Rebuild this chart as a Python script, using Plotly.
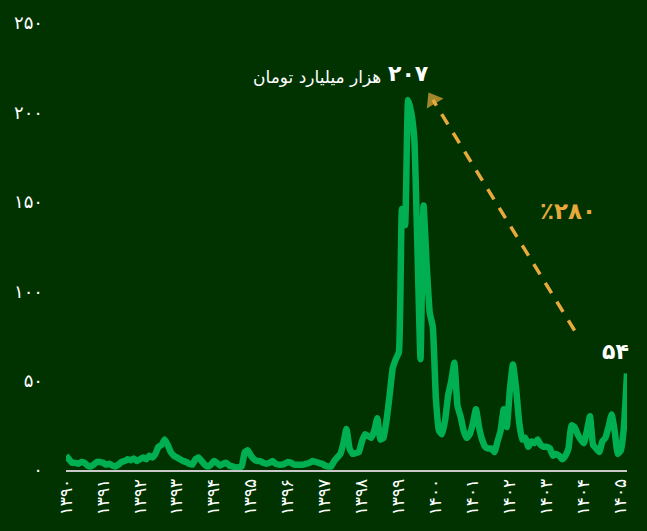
import plotly.graph_objects as go

# Monthly values (thousand billion toman), starting 1390
values = [
    8, 6, 4, 4, 3.5, 4.5, 4, 2.5, 2, 3, 4.5, 4.5, 4, 3, 3.5, 2.5, 2, 3, 4.5, 5,
    6, 5.5, 6.5, 5, 6, 7, 6, 8, 7, 9, 13, 14, 17, 14, 10, 8, 7, 6, 5, 4.5,
    3.5, 3, 6, 7, 5, 3, 2, 3, 5, 4, 2.5, 3.5, 4, 2.5, 2, 1.5, 1.5, 2, 10, 11,
    8, 6, 5, 5, 4, 3.5, 4, 5, 3.5, 3, 3, 3.5, 4.5, 4, 3, 3, 3, 3, 3.5, 4,
    5, 4.5, 4, 3.5, 2.5, 2, 2, 5, 7, 9, 15, 23, 12, 9, 9.5, 10, 16, 20, 19, 18,
    22, 29, 17, 18, 28, 42, 57, 62, 66, 146, 137, 207, 200, 185, 125, 62, 148, 115, 88, 80,
    40, 22, 20, 28, 42, 50, 60, 36, 30, 22, 18, 20, 26, 34, 24, 17, 13, 12, 12, 10,
    16, 22, 34, 24, 45, 59, 46, 27, 17, 18, 13, 16, 15, 17, 14, 13, 13, 12, 8, 9,
    8, 6, 8, 12, 25, 24, 20, 17, 15, 22, 30, 14, 12, 10, 16, 18, 24, 31, 22, 9,
    11, 24, 54,
]
start_year = 1390
months = [start_year + i / 12 for i in range(len(values))]

tick_years = list(range(1390, 1406))
fa_digits = str.maketrans("0123456789", "۰۱۲۳۴۵۶۷۸۹")
tick_text = [str(y).translate(fa_digits) for y in tick_years]
y_ticks = [0, 50, 100, 150, 200, 250]
y_text = [str(v).translate(fa_digits) for v in y_ticks]

peak_value = 207
last_value = 54
change_label = "٪۲۸۰"
unit_label = "هزار میلیارد تومان"

arrow_x = [1403.75, 1399.92]
arrow_y = [78, 207]

BG = "#003300"
GREEN = "#00B050"
ORANGE = "#E8A93C"
FONT = "DejaVu Sans"

fig = go.Figure()
fig.add_trace(go.Scatter(
    x=months, y=values, mode="lines",
    line=dict(color=GREEN, width=6.5, shape="spline", smoothing=0.4),
    hoverinfo="skip", showlegend=False,
))
fig.add_trace(go.Scatter(
    x=arrow_x, y=arrow_y, mode="lines+markers",
    line=dict(color=ORANGE, width=3.5, dash="12px,10px"),
    marker=dict(symbol="triangle-up", size=[0, 17], color=ORANGE,
                angleref="previous", line=dict(width=0)),
    hoverinfo="skip", showlegend=False,
))

peak_idx = values.index(max(values))
fig.add_annotation(x=months[peak_idx], y=values[peak_idx],
                   text="<b>" + str(peak_value).translate(fa_digits) + "</b>",
                   showarrow=False, xanchor="right", yanchor="middle",
                   xshift=23, yshift=26,
                   font=dict(family=FONT, size=22, color="white"))
fig.add_annotation(x=months[peak_idx], y=values[peak_idx],
                   text=unit_label, showarrow=False, xanchor="right", yanchor="middle",
                   xshift=-25, yshift=23,
                   font=dict(family=FONT, size=17, color="white"))
fig.add_annotation(x=months[-1], y=values[-1],
                   text="<b>" + str(last_value).translate(fa_digits) + "</b>",
                   showarrow=False, xanchor="center", yanchor="middle",
                   xshift=-12, yshift=22,
                   font=dict(family=FONT, size=22, color="white"))
fig.add_annotation(x=(arrow_x[0] + arrow_x[1]) / 2, y=(arrow_y[0] + arrow_y[1]) / 2,
                   text="<b>" + change_label + "</b>",
                   showarrow=False, xanchor="center", yanchor="middle",
                   xshift=64, yshift=4,
                   font=dict(family=FONT, size=23, color=ORANGE))

fig.update_layout(
    width=647, height=531,
    paper_bgcolor=BG, plot_bgcolor=BG,
    margin=dict(l=66, r=20, t=19, b=61),
    font=dict(family=FONT, color="white"),
    showlegend=False,
    xaxis=dict(
        range=[start_year, start_year + (len(values) - 1) / 12],
        tickvals=tick_years, ticktext=tick_text, tickangle=-90,
        showgrid=False, zeroline=False,
        showline=True, linecolor="#C8C8C8", linewidth=2,
        ticks="", tickfont=dict(family=FONT, size=17, color="white"),
        fixedrange=True,
    ),
    yaxis=dict(
        range=[0, 250], tickvals=y_ticks, ticktext=y_text,
        showgrid=False, zeroline=False, showline=False, ticks="",
        ticklabelstandoff=22,
        tickfont=dict(family=FONT, size=18, color="white"),
        fixedrange=True,
    ),
)

fig.write_html(
    "out.html",
    config={"displayModeBar": False},
    post_script="document.body.style.margin='0';document.body.style.overflow='hidden';",
)
